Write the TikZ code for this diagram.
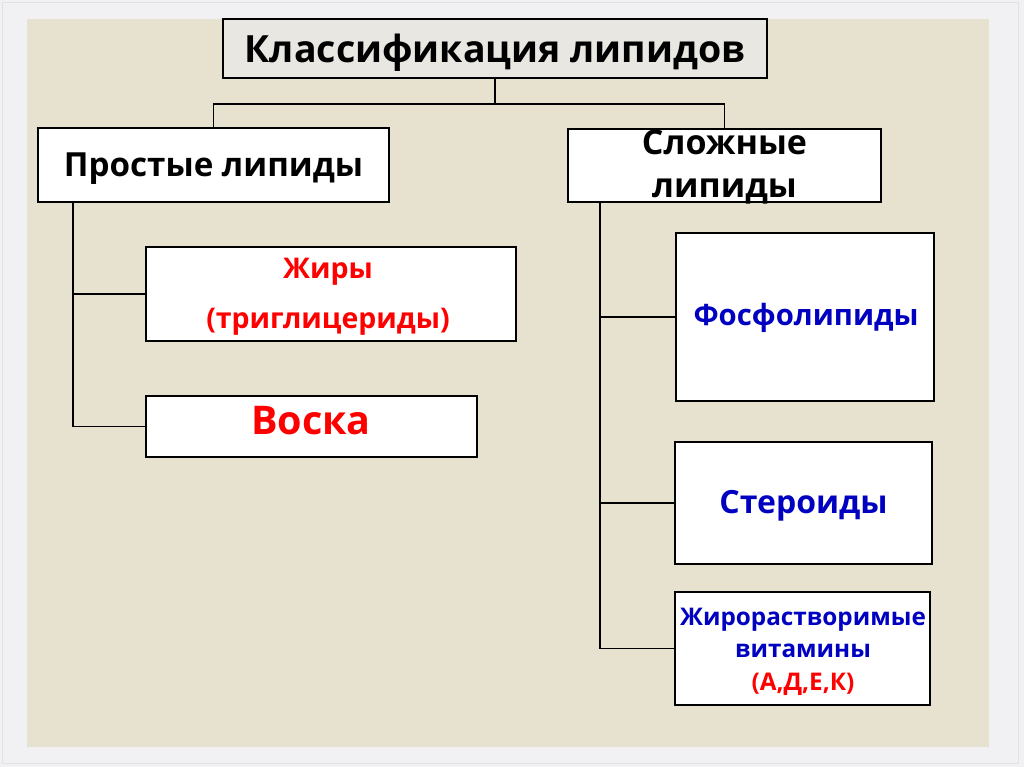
\documentclass[tikz,border=0pt]{standalone}
\usepackage{fontspec}
\setmainfont{Open Sans}
\definecolor{outerbg}{HTML}{F1F1F3}
\definecolor{outerline}{HTML}{E2E2E4}
\definecolor{panel}{HTML}{E7E2D0}
\definecolor{titlefill}{HTML}{E9E7E2}
\definecolor{txtred}{HTML}{FF0000}
\definecolor{txtblue}{HTML}{0000C0}
\tikzset{
  box/.style={draw=black, line width=1.8pt, fill=white, inner sep=0pt, outer sep=0pt, anchor=center},
  label/.style={anchor=base, inner sep=0pt, font=\bfseries, align=center},
  conn/.style={draw=black, line width=1.8pt}
}
\begin{document}
\begin{tikzpicture}[x=1pt, y=-1pt]
\useasboundingbox (0,0) rectangle (1024,767);
\fill[outerbg] (0,0) rectangle (1024,767);
\draw[outerline, line width=0.8pt] (2,2) rectangle (1018,763);
\fill[panel] (27,19) rectangle (989,747);

% boxes
\node[box, fill=titlefill, minimum width=544pt, minimum height=59pt] (title) at (495,48.5) {};
\node[box, minimum width=351pt, minimum height=74pt] (simple) at (213.5,165) {};
\node[box, minimum width=313pt, minimum height=73pt] (complex) at (724.5,165.5) {};
\node[box, minimum width=370pt, minimum height=94pt] (fats) at (331,294) {};
\node[box, minimum width=331pt, minimum height=61pt] (wax) at (311.5,426.5) {};
\node[box, minimum width=258pt, minimum height=168pt] (phos) at (805,317) {};
\node[box, minimum width=257pt, minimum height=122pt] (ster) at (803.5,503) {};
\node[box, minimum width=255pt, minimum height=113pt] (vit) at (802.5,648.5) {};

% connectors
\coordinate (hub) at (495,104);
\coordinate (ltop) at (73,202);
\coordinate (rtop) at (600,202);
\draw[conn] (title.south) -- (hub);
\draw[conn] (simple.north) |- (hub) -| (complex.north);
\draw[conn] (ltop) |- (fats.west);
\draw[conn] (ltop) |- (wax.west);
\draw[conn] (rtop) |- (phos.west);
\draw[conn] (rtop) |- (ster.west);
\draw[conn] (rtop) |- (vit.west);

% texts
\node[label, font=\bfseries\fontsize{37.5}{45}\selectfont] (titletxt) at (495,63) {Классификация липидов};
\node[label, font=\bfseries\fontsize{33.2}{43}\selectfont] (simpletxt) at (213.5,177) {Простые липиды};
\node[label, font=\bfseries\fontsize{34}{43}\selectfont, text width=300pt] (complextxt) at (724.5,155) {Сложные\\липиды};
\node[label, font=\bfseries\fontsize{28.5}{50}\selectfont, text width=360pt, text=txtred] (fatstxt) at (328,278) {Жиры\\(триглицериды)};
\node[label, font=\bfseries\fontsize{39.5}{45}\selectfont, text=txtred] (waxtxt) at (311,434) {Воска};
\node[label, font=\bfseries\fontsize{29.3}{34}\selectfont, text=txtblue] (phostxt) at (806,325) {Фосфолипиды};
\node[label, font=\bfseries\fontsize{32}{38}\selectfont, text=txtblue] (stertxt) at (803.5,513) {Стероиды};
\node[label, font=\bfseries\fontsize{24.3}{32.5}\selectfont, text width=250pt, text=txtblue] (vittxt) at (803,625) {Жирорастворимые\\витамины\\\textcolor{txtred}{(А,Д,Е,К)}};
\end{tikzpicture}
\end{document}
